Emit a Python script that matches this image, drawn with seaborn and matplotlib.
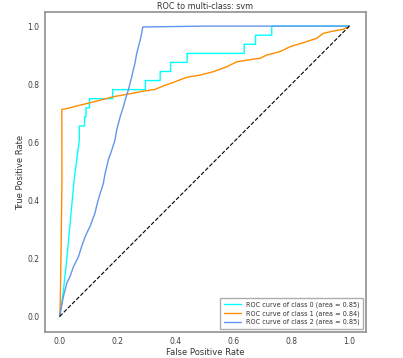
import matplotlib
matplotlib.use("Agg")

import matplotlib.pyplot as plt
import seaborn as sns
import pandas as pd

# ROC curve points
fpr_class0 = [0.0, 0.005, 0.012, 0.025, 0.05, 0.068, 0.068, 0.086, 0.086, 0.091, 0.091,
              0.103, 0.103, 0.183, 0.183, 0.296, 0.296, 0.347, 0.347, 0.383, 0.383,
              0.44, 0.44, 0.637, 0.637, 0.676, 0.676, 0.732, 0.732, 1.0]
tpr_class0 = [0.0, 0.03, 0.08, 0.2, 0.47, 0.608, 0.656, 0.656, 0.6875, 0.6875, 0.71875,
              0.71875, 0.75, 0.75, 0.78125, 0.78125, 0.8125, 0.8125, 0.84375, 0.84375, 0.875,
              0.875, 0.906, 0.906, 0.9375, 0.9375, 0.96875, 0.96875, 1.0, 1.0]

fpr_class1 = [0.0, 0.002, 0.005, 0.008, 0.0075, 0.030, 0.059, 0.105, 0.140, 0.186, 0.232,
              0.289, 0.329, 0.358, 0.392, 0.439, 0.484, 0.530, 0.577, 0.611, 0.668,
              0.691, 0.714, 0.760, 0.795, 0.841, 0.887, 0.910, 0.944, 0.979, 1.0]
tpr_class1 = [0.0, 0.034, 0.23, 0.47, 0.713, 0.717, 0.725, 0.736, 0.745, 0.757, 0.765,
              0.776, 0.782, 0.794, 0.806, 0.824, 0.831, 0.843, 0.860, 0.877, 0.886,
              0.889, 0.900, 0.912, 0.929, 0.943, 0.958, 0.975, 0.983, 0.989, 1.0]

fpr_class2 = [0.0, 0.013, 0.025, 0.036, 0.048, 0.065, 0.076, 0.088, 0.096, 0.105, 0.122,
              0.130, 0.140, 0.151, 0.157, 0.168, 0.180, 0.191, 0.197, 0.209, 0.220,
              0.226, 0.237, 0.243, 0.249, 0.254, 0.260, 0.266, 0.272, 0.278, 0.283,
              0.287, 0.50, 1.0]
tpr_class2 = [0.0, 0.069, 0.115, 0.138, 0.172, 0.206, 0.241, 0.275, 0.292, 0.310, 0.356,
              0.390, 0.424, 0.459, 0.493, 0.539, 0.573, 0.608, 0.642, 0.688, 0.722,
              0.745, 0.780, 0.803, 0.826, 0.849, 0.872, 0.906, 0.929, 0.952, 0.975,
              0.997, 1.0, 1.0]

areas = [0.85, 0.84, 0.85]
colors = ["aqua", "darkorange", "cornflowerblue"]

sns.set_style("white", {"axes.edgecolor": "0.6"})
plt.rcParams.update({
    "font.family": ["DejaVu Sans"],
    "axes.linewidth": 1.3,
    "text.color": "0.2",
    "axes.labelcolor": "0.2",
    "xtick.color": "0.25",
    "ytick.color": "0.25",
})

fig = plt.figure(figsize=(4.03, 3.58), dpi=100)
ax = fig.add_axes([0.112, 0.073, 0.796, 0.893])

curves = [(fpr_class0, tpr_class0), (fpr_class1, tpr_class1), (fpr_class2, tpr_class2)]
for i, (fpr, tpr) in enumerate(curves):
    df = pd.DataFrame({"fpr": fpr, "tpr": tpr})
    sns.lineplot(data=df, x="fpr", y="tpr", sort=False, estimator=None, color=colors[i],
                 linewidth=1.0, label=f"ROC curve of class {i} (area = {areas[i]:.2f})", ax=ax)

ax.plot([0, 1], [0, 1], "k--", linewidth=0.8)

ax.set_xlim(-0.05, 1.057)
ax.set_ylim(-0.053, 1.048)
ax.set_xticks([0.0, 0.2, 0.4, 0.6, 0.8, 1.0])
ax.set_yticks([0.0, 0.2, 0.4, 0.6, 0.8, 1.0])
ax.tick_params(labelsize=5.5, length=0, pad=4)
ax.set_xlabel("False Positive Rate", fontsize=6.0, labelpad=1)
ax.set_ylabel("True Positive Rate", fontsize=6.0, labelpad=2)
ax.set_title("ROC to multi-class: svm", fontsize=5.8, pad=2)
ax.legend(loc="lower right", fontsize=4.7, frameon=True, handlelength=2.6,
          borderpad=0.5, labelspacing=0.35, fancybox=False, edgecolor="0.6")

fig.savefig("out.png", dpi=100)
